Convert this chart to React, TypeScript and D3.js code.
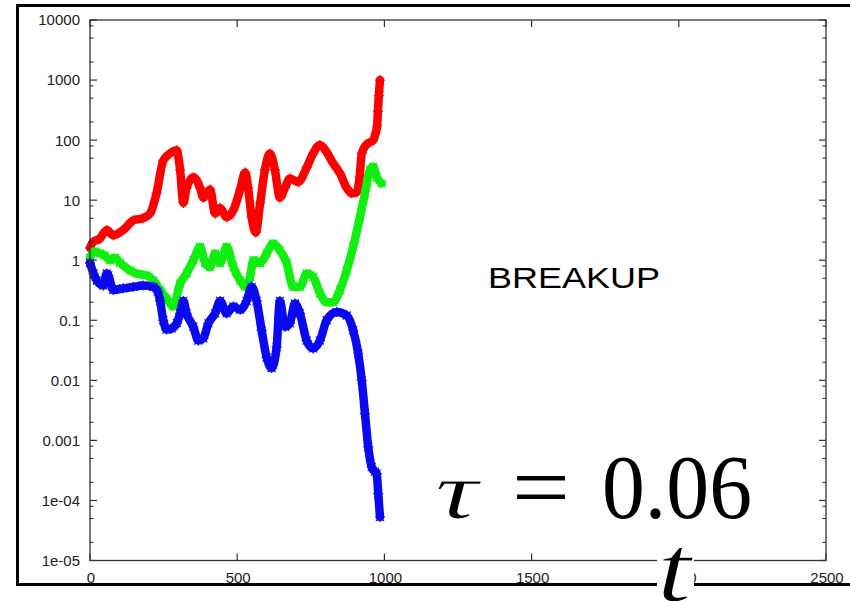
import React from "react";
import * as d3 from "d3";

const W = 850;
const H = 601;

// time values and series values
const redT = [0, 10, 34, 57, 79, 113, 147, 180, 204, 226, 249, 272, 294, 306, 317, 328, 351, 374, 385, 408, 425, 442, 464, 487, 510, 527, 537, 549, 563, 578, 594, 611, 628, 645, 662, 679, 707, 736, 758, 781, 804, 826, 849, 872, 889, 906, 916, 923, 940, 962, 970, 975, 978, 981, 985];
const redV = [1.6, 2.0, 2.3, 3.2, 2.6, 3.2, 4.6, 5.0, 6.0, 13, 46, 60, 68, 32, 9, 16, 24, 16, 11, 15, 6, 7.4, 5.2, 6.8, 15, 29, 16, 5.2, 2.9, 9, 32, 60, 32, 11, 16, 23, 20, 35, 60, 83, 63, 41, 28, 16, 13, 13.5, 25, 60, 85, 100, 130, 170, 300, 550, 1000];

const greenT = [0, 15, 34, 50, 68, 85, 102, 136, 158, 192, 215, 238, 260, 283, 306, 328, 351, 374, 391, 408, 425, 442, 464, 487, 510, 527, 544, 555, 578, 600, 622, 645, 668, 690, 713, 736, 758, 781, 804, 826, 849, 872, 894, 917, 934, 951, 962, 974, 991];
const greenV = [1.1, 1.4, 1.3, 1.2, 1.0, 1.1, 0.9, 0.68, 0.6, 0.56, 0.46, 0.32, 0.23, 0.17, 0.41, 0.6, 1.0, 1.67, 0.9, 0.77, 1.3, 0.9, 1.67, 0.77, 0.46, 0.36, 0.53, 1.0, 0.9, 1.3, 1.9, 1.47, 0.9, 0.36, 0.36, 0.6, 0.53, 0.28, 0.2, 0.2, 0.32, 0.68, 1.67, 5.3, 13, 32, 36, 24, 19];

const blueT = [0, 12, 23, 45, 57, 62, 79, 113, 147, 180, 215, 230, 238, 249, 260, 277, 295, 306, 317, 328, 351, 368, 385, 402, 425, 442, 464, 487, 510, 532, 549, 566, 583, 600, 617, 634, 645, 662, 679, 696, 713, 736, 758, 781, 804, 838, 872, 894, 911, 923, 934, 945, 957, 968, 974, 979, 985];
const blueV = [0.9, 0.6, 0.46, 0.38, 0.6, 0.56, 0.32, 0.34, 0.36, 0.38, 0.36, 0.3, 0.21, 0.1, 0.07, 0.073, 0.09, 0.13, 0.21, 0.13, 0.078, 0.046, 0.05, 0.089, 0.13, 0.21, 0.13, 0.17, 0.15, 0.21, 0.36, 0.21, 0.068, 0.024, 0.016, 0.036, 0.21, 0.078, 0.089, 0.19, 0.13, 0.046, 0.034, 0.046, 0.1, 0.137, 0.12, 0.068, 0.028, 0.01, 0.0028, 0.00078, 0.00036, 0.0003, 0.00028, 0.00013, 0.000053];

const xTicks = [0, 500, 1000, 1500, 2000, 2500];
const xTickLabels = ["0", "500", "1000", "1500", "2000", "2500"];
const yTicks = [1e-5, 1e-4, 1e-3, 1e-2, 1e-1, 1, 10, 100, 1000, 10000];
const yTickLabels = ["1e-05", "1e-04", "0.001", "0.01", "0.1", "1", "10", "100", "1000", "10000"];
const minorMult = [2, 5, 8];

const annotation = "BREAKUP";
const tauName = "τ";
const tauValue = "0.06";
const xAxisName = "t";

type Series = { t: number[]; v: number[]; color: string; marker: string };

const series: Series[] = [
  { t: redT, v: redV, color: "#ff0000", marker: "M-5,0H5M0,-5V5" },
  { t: greenT, v: greenV, color: "#11ee11", marker: "M-4,-4L4,4M-4,4L4,-4" },
  { t: blueT, v: blueV, color: "#0a0af0", marker: "M-5,0H5M0,-5V5M-4,-4L4,4M-4,4L4,-4" },
];

export default function App() {
  const x = d3.scaleLinear().domain([0, 2500]).range([90, 826]);
  const y = d3.scaleLog().domain([1e-5, 1e4]).range([560.5, 20]);
  const line = d3
    .line<[number, number]>()
    .x((d) => x(d[0]))
    .y((d) => y(d[1]))
    .curve(d3.curveMonotoneX);

  const minors: number[] = [];
  yTicks.slice(0, -1).forEach((d) => minorMult.forEach((m) => minors.push(d * m)));

  const axisColor = "#333";
  const tickFont = "'Liberation Sans', Arial, Helvetica, sans-serif";
  const serif = "'Liberation Serif', 'Times New Roman', 'DejaVu Serif', serif";
  const [x0, x1] = x.range();
  const yb = y(1e-5);
  const yt = y(1e4);

  return (
    <svg width={W} height={H} style={{ position: "absolute", left: 0, top: 0, background: "#fff" }}>
      <rect x={0} y={0} width={W} height={H} fill="#fff" />
      {/* series */}
      {series.map((s, i) => {
        const pts: [number, number][] = s.t.map((t, j) => [t, s.v[j]]);
        return (
          <g key={i}>
            <path d={line(pts) || ""} fill="none" stroke={s.color} strokeWidth={8.5} strokeLinejoin="round" strokeLinecap="round" />
            {pts.map((p, j) => (
              <path key={j} d={s.marker} transform={`translate(${x(p[0])},${y(p[1])})`} stroke={s.color} strokeWidth={1.2} fill="none" />
            ))}
          </g>
        );
      })}
      {/* plot box */}
      <rect x={x0} y={yt} width={x1 - x0} height={yb - yt} fill="none" stroke={axisColor} strokeWidth={1.3} />
      {/* y ticks */}
      {yTicks.map((d, i) => (
        <g key={"y" + i}>
          <line x1={x0} x2={x0 + 7} y1={y(d)} y2={y(d)} stroke={axisColor} strokeWidth={1.2} />
          <line x1={x1} x2={x1 - 7} y1={y(d)} y2={y(d)} stroke={axisColor} strokeWidth={1.2} />
          <text x={80} y={y(d)} dy="0.36em" textAnchor="end" fontFamily={tickFont} fontSize={15} fill="#222">
            {yTickLabels[i]}
          </text>
        </g>
      ))}
      {minors.map((d, i) => (
        <g key={"m" + i}>
          <line x1={x0} x2={x0 + 3.5} y1={y(d)} y2={y(d)} stroke={axisColor} strokeWidth={1.1} />
          <line x1={x1} x2={x1 - 3.5} y1={y(d)} y2={y(d)} stroke={axisColor} strokeWidth={1.1} />
        </g>
      ))}
      {/* x ticks */}
      {xTicks.map((d, i) => (
        <g key={"x" + i}>
          <line x1={x(d)} x2={x(d)} y1={yb} y2={yb - 7} stroke={axisColor} strokeWidth={1.2} />
          <line x1={x(d)} x2={x(d)} y1={yt} y2={yt + 7} stroke={axisColor} strokeWidth={1.2} />
          <text x={x(d) + 1} y={582.5} textAnchor="middle" fontFamily={tickFont} fontSize={15} fill="#222">
            {xTickLabels[i]}
          </text>
        </g>
      ))}
      {/* outer frame */}
      <rect x={17.5} y={5.5} width={900} height={579} fill="none" stroke="#000" strokeWidth={3} />
      {/* annotations */}
      <text x={488} y={288} fontFamily={tickFont} fontSize={29} textLength={172} lengthAdjust="spacingAndGlyphs" fill="#000">
        {annotation}
      </text>
      <text x={435} y={518} fontFamily={serif} fontStyle="italic" fontSize={80} fontWeight={400} textLength={43} lengthAdjust="spacingAndGlyphs" fill="#000" stroke="#fff" strokeWidth={1}>
        {tauName}
      </text>
      <text x={512} y={518} fontFamily={serif} fontSize={90} textLength={58} lengthAdjust="spacingAndGlyphs" fill="#000">
        =
      </text>
      <text x={602} y={518} fontFamily={serif} fontSize={90} textLength={150} lengthAdjust="spacingAndGlyphs" fill="#000">
        {tauValue}
      </text>
      <rect x={657} y={537} width={37} height={64} fill="#fff" />
      <text x={657} y={601} fontFamily={serif} fontStyle="italic" fontSize={96} fontWeight={400} textLength={34} lengthAdjust="spacingAndGlyphs" fill="#000" stroke="#fff" strokeWidth={1.2}>
        {xAxisName}
      </text>
    </svg>
  );
}
